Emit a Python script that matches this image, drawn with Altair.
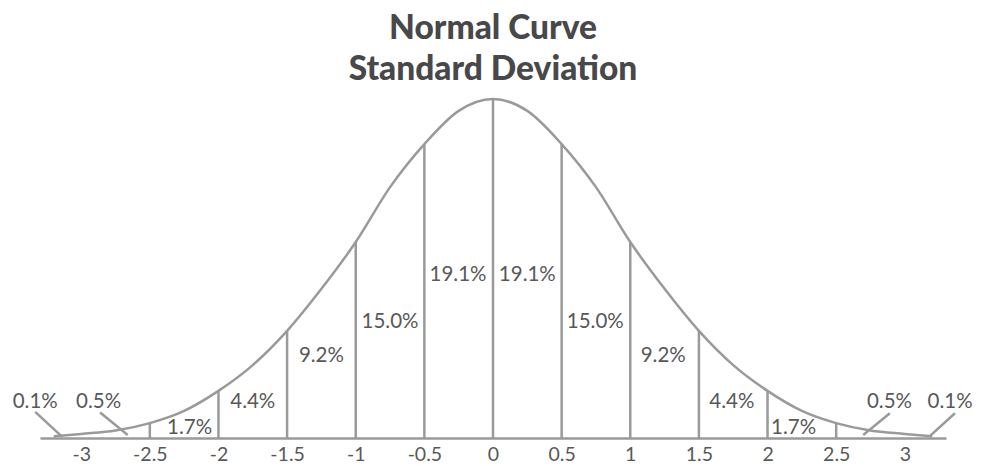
import altair as alt
import pandas as pd

# Curve heights (relative to peak)
curve_z = [-3.2, -3.0, -2.75, -2.5, -2.25, -2.0, -1.75, -1.5, -1.25, -1.0, -0.75, -0.5, -0.25,
           0.0, 0.25, 0.5, 0.75, 1.0, 1.25, 1.5, 1.75, 2.0, 2.25, 2.5, 2.75, 3.0, 3.2]
curve_h = [0.005, 0.012, 0.022, 0.044, 0.08, 0.139, 0.215, 0.316, 0.44, 0.578, 0.74, 0.867, 0.965,
           1.0, 0.965, 0.867, 0.74, 0.578, 0.44, 0.316, 0.215, 0.139, 0.08, 0.044, 0.022, 0.012, 0.005]

# Division lines
div_z = [-2.5, -2.0, -1.5, -1.0, -0.5, 0.0, 0.5, 1.0, 1.5, 2.0, 2.5]

# Percent labels inside the curve
pct_text = ["1.7%", "4.4%", "9.2%", "15.0%", "19.1%", "19.1%", "15.0%", "9.2%", "4.4%", "1.7%"]
pct_z = [-2.21, -1.75, -1.25, -0.75, -0.255, 0.25, 0.745, 1.24, 1.74, 2.19]
pct_y = [0.03, 0.106, 0.242, 0.342, 0.481, 0.481, 0.342, 0.242, 0.106, 0.03]

# Tail labels with leader lines
tail_text = ["0.1%", "0.5%", "0.5%", "0.1%"]
tail_z = [-3.335, -2.873, 2.888, 3.33]
tail_y = [0.106, 0.106, 0.106, 0.106]
lead_z1 = [-3.335, -2.862, 2.891, 3.365]
lead_y1 = [0.077, 0.075, 0.073, 0.073]
lead_z2 = [-3.14, -2.661, 2.697, 3.178]
lead_y2 = [0.004, 0.009, 0.009, 0.004]

tick_vals = [-3, -2.5, -2, -1.5, -1, -0.5, 0, 0.5, 1, 1.5, 2, 2.5, 3]

GRAY = "#9a9a9a"
TXT = "#58585a"
FONT = "Lato"

lookup = dict(zip(curve_z, curve_h))
curve_df = pd.DataFrame({"z": curve_z, "h": curve_h})
div_df = pd.DataFrame({"z": div_z, "h": [lookup[z] for z in div_z]})
pct_df = pd.DataFrame({"t": pct_text, "z": pct_z, "y": pct_y})
tail_df = pd.DataFrame({"t": tail_text, "z": tail_z, "y": tail_y})
lead_df = pd.DataFrame({"z1": lead_z1, "y1": lead_y1, "z2": lead_z2, "y2": lead_y2})

xs = alt.Scale(domain=[-3.3, 3.3], nice=False, zero=False)
ys = alt.Scale(domain=[0, 1], nice=False, zero=False)

xaxis = alt.Axis(values=tick_vals, labelExpr="'' + datum.value", title=None, grid=False,
                 ticks=False, domain=True, domainColor=GRAY, domainWidth=2.5,
                 labelFont=FONT, labelFontSize=19.5, labelColor=TXT, labelPadding=7)

curve = alt.Chart(curve_df).mark_line(color=GRAY, strokeWidth=2.5, interpolate="monotone").encode(
    x=alt.X("z:Q", scale=xs, axis=xaxis),
    y=alt.Y("h:Q", scale=ys, axis=None),
)

rules = alt.Chart(div_df).mark_rule(color=GRAY, strokeWidth=2.5).encode(
    x=alt.X("z:Q", scale=xs),
    y=alt.Y("h:Q", scale=ys),
    y2=alt.datum(0),
)

leads = alt.Chart(lead_df).mark_rule(color=GRAY, strokeWidth=2.5).encode(
    x=alt.X("z1:Q", scale=xs),
    y=alt.Y("y1:Q", scale=ys),
    x2="z2:Q",
    y2="y2:Q",
)

pct = alt.Chart(pct_df).mark_text(font=FONT, fontSize=20.5, color=TXT, baseline="middle").encode(
    x=alt.X("z:Q", scale=xs),
    y=alt.Y("y:Q", scale=ys),
    text="t:N",
)

tails = alt.Chart(tail_df).mark_text(font=FONT, fontSize=20.5, color=TXT, baseline="middle").encode(
    x=alt.X("z:Q", scale=xs),
    y=alt.Y("y:Q", scale=ys),
    text="t:N",
)

chart = alt.layer(curve, rules, leads, pct, tails).properties(
    width=906,
    height=339,
    autosize=alt.AutoSizeParams(type="none"),
    padding={"left": 32, "top": 91, "right": 27, "bottom": 27},
    title=alt.TitleParams(
        text=["Normal Curve", "Standard Deviation"],
        font=FONT, fontSize=33.5, fontWeight=900, color="#48484a",
        lineHeight=41, anchor="middle", offset=7,
    ),
).configure_view(stroke=None)

chart.save("out.html", embed_options={"renderer": "svg", "actions": False})
